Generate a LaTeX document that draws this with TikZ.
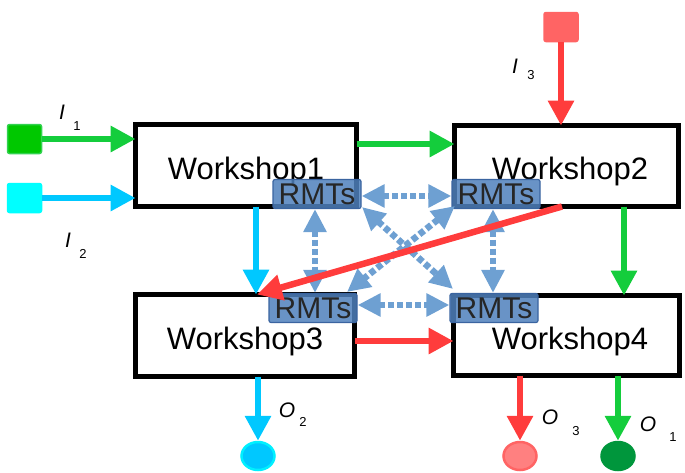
\documentclass[tikz,border=0pt]{standalone}
\usepackage{fontspec}
\setmainfont{Liberation Sans}
\usetikzlibrary{arrows.meta,shapes.geometric}
\definecolor{agreen}{RGB}{20,205,60}
\definecolor{acyan}{RGB}{0,200,255}
\definecolor{ared}{RGB}{255,60,60}
\definecolor{sgreen}{RGB}{0,200,0}
\definecolor{sgreenb}{RGB}{50,210,80}
\definecolor{scyan}{RGB}{0,255,255}
\definecolor{sred}{RGB}{255,100,100}
\definecolor{ored}{RGB}{255,128,128}
\definecolor{ogreen}{RGB}{0,150,60}
\definecolor{ocyan}{RGB}{0,200,255}
\definecolor{ocyanb}{RGB}{0,240,255}
\definecolor{linkc}{RGB}{110,160,210}
\definecolor{rmtfill}{RGB}{79,129,189}
\definecolor{rmtborder}{RGB}{58,100,160}
\begin{document}
\begin{tikzpicture}[x=1pt,y=-1pt,
  ws/.style={draw=black, line width=5pt, rectangle, fill=white, inner sep=0pt, outer sep=0pt,
    text height=27pt, text depth=0pt, font=\fontsize{31}{31}\selectfont},
  rmt/.style={draw=rmtborder, line width=1.2pt, rounded corners=2pt, fill=rmtfill, fill opacity=0.85,
    text opacity=1, minimum width=88pt, minimum height=29pt, inner sep=0pt,
    font=\fontsize{30}{30}\selectfont, text=black!85},
  flow/.style={line width=6.5pt, -{Triangle[length=25pt,width=25pt]}},
  link/.style={line width=6.5pt, draw=linkc, dash pattern=on 6pt off 3pt,
    {Triangle[length=23pt,width=22pt]}-{Triangle[length=23pt,width=22pt]}},
  src/.style={rectangle, rounded corners=2pt, minimum width=34pt, minimum height=29pt, line width=1.5pt, inner sep=0pt},
  snk/.style={ellipse, minimum width=33pt, minimum height=28pt, line width=2.5pt, inner sep=0pt},
  lbl/.style={inner sep=0pt, font=\fontsize{21}{21}\selectfont\itshape},
  sub/.style={inner sep=0pt, font=\fontsize{13}{13}\selectfont},
]
\useasboundingbox (0,0) rectangle (685,472);

% workshops
\node[ws, minimum width=221pt, minimum height=82pt] (w1) at (246,165.5) {Workshop1\hspace{5pt}};
\node[ws, minimum width=224pt, minimum height=81pt] (w2) at (566.5,166) {\hspace{7pt}Workshop2};
\node[ws, minimum width=219pt, minimum height=82pt] (w3) at (245,335.5) {Workshop3\hspace{3pt}};
\node[ws, minimum width=226pt, minimum height=80pt] (w4) at (566.5,335.5) {\hspace{7pt}Workshop4};

% sources and sinks
\node[src, fill=sgreen, draw=sgreenb] (s1) at (24.5,139) {};
\node[src, fill=scyan, draw=scyan] (s2) at (24.5,198) {};
\node[src, fill=sred, draw=sred] (s3) at (561,27) {};
\node[snk, fill=ocyan, draw=ocyanb] (o2) at (258,456) {};
\node[snk, fill=ored, draw=sred] (o3) at (520,456) {};
\node[snk, fill=ogreen, draw=ogreen] (o1) at (618,456) {};

% labels
\node[lbl] (li1) at (62,112) {I};
\node[sub] (li1s) at (77,126) {1};
\node[lbl] (li2) at (68,240) {I};
\node[sub] (li2s) at (83,254) {2};
\node[lbl] (li3) at (515,66) {I};
\node[sub] (li3s) at (531,75) {3};
\node[lbl] (lo2) at (287,410) {O};
\node[sub] (lo2s) at (303,422) {2};
\node[lbl] (lo3) at (550,417) {O};
\node[sub] (lo3s) at (576,431) {3};
\node[lbl] (lo1) at (648,424) {O};
\node[sub] (lo1s) at (673,437) {1};

% RMT nodes
\node[rmt] (r1) at (317,194) {RMTs};
\node[rmt] (r2) at (496,194) {RMTs};
\node[rmt] (r3) at (313,308) {RMTs};
\node[rmt] (r4) at (494,308) {RMTs};

\coordinate (d1) at (362,207);
\coordinate (d4) at (453,289);
\coordinate (d2) at (455,206);
\coordinate (d3) at (347,292);

% RMT links
\draw[link] (r1.east |- 0,196) -- (r2.west |- 0,196);
\draw[link] (r3.east |- 0,305) -- (r4.west |- 0,305);
\draw[link] (r1.south -| 315,0) -- (r3.north -| 315,0);
\draw[link] (r2.south -| 493,0) -- (r4.north -| 493,0);
\draw[link] (d1) -- (d4);
\draw[link] (d2) -- (d3);

% flows
\draw[flow, draw=agreen, fill=agreen] (s1.east) -- (w1.west |- s1);
\draw[flow, draw=acyan, fill=acyan] (s2.east) -- (w1.west |- s2);
\draw[flow, draw=ared, fill=ared] (s3.south) -- (w2.north -| s3);
\draw[flow, draw=agreen, fill=agreen] (w1.east |- 0,144) -- (w2.west |- 0,144);
\draw[flow, draw=acyan, fill=acyan] (w1.south -| 256,0) -- (w3.north -| 256,0);
\draw[flow, draw=ared, fill=ared] (w2.south -| 562,0) -- (w3.north -| 257,0);
\draw[flow, draw=agreen, fill=agreen] (w2.south -| 624,0) -- (w4.north -| 624,0);
\draw[flow, draw=ared, fill=ared] (w3.east |- 0,341) -- (w4.west |- 0,341);
\draw[flow, draw=acyan, fill=acyan] (w3.south -| o2) -- (o2.north);
\draw[flow, draw=ared, fill=ared] (w4.south -| o3) -- (o3.north);
\draw[flow, draw=agreen, fill=agreen] (w4.south -| o1) -- (o1.north);
\end{tikzpicture}
\end{document}
